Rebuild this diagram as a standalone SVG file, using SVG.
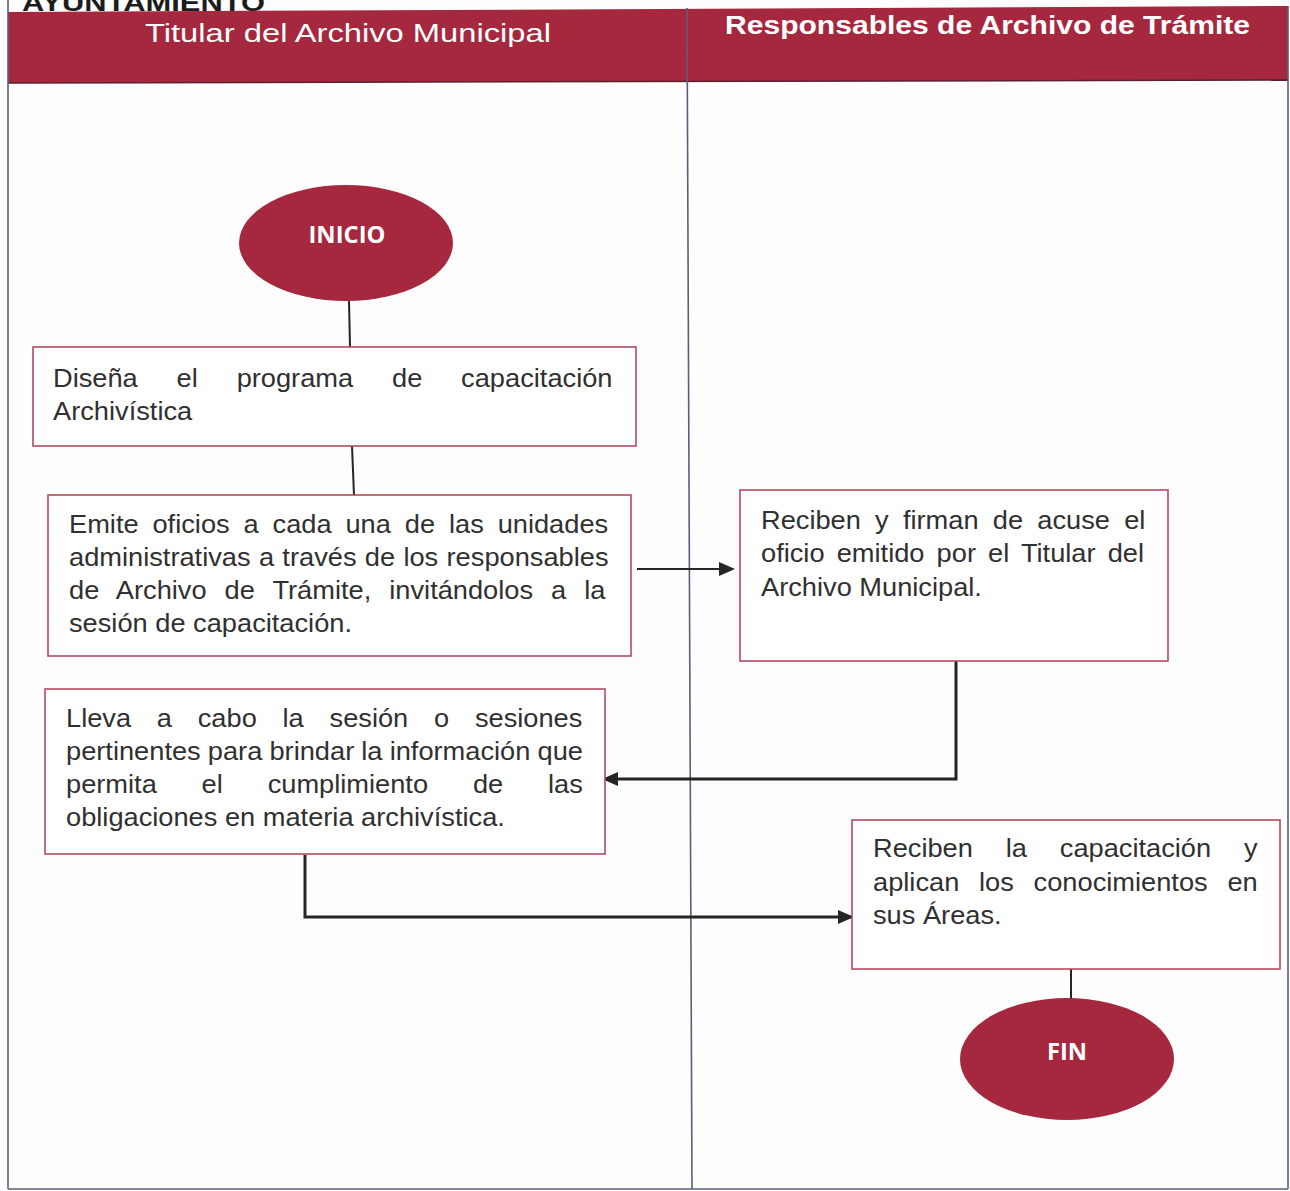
<svg xmlns="http://www.w3.org/2000/svg" width="1290" height="1191" viewBox="0 0 1290 1191">
  <style>
    .frame { fill: none; stroke: #5a5f78; stroke-width: 1.6; }
    .band { fill: #a6283f; }
    .lane-title { font-family: "Liberation Sans", Arial, sans-serif; font-size: 26px; fill: #ffffff; }
    .box { fill: #ffffff; stroke: #b44a60; stroke-width: 1.6; }
    .txt { font-family: "Liberation Sans", Arial, sans-serif; font-size: 25px; fill: #303030; }
    .term { fill: #a6283f; }
    .term-txt { font-family: "Open Sans", "Liberation Sans", sans-serif; font-size: 24px; font-weight: bold; fill: #ffffff; text-anchor: middle; }
    .wire { fill: none; stroke: #252525; stroke-width: 2; }
    .wire-heavy { fill: none; stroke: #252525; stroke-width: 3; }
  </style>
  <defs>
    <marker id="arrow" markerUnits="userSpaceOnUse" markerWidth="16" markerHeight="14" refX="14" refY="7" orient="auto">
      <path d="M0,0 L16,7 L0,14 Z" fill="#252525"/>
    </marker>
  </defs>

  <rect x="0" y="0" width="1290" height="1191" fill="#fdfdfd"/>

  <!-- page heading, running off the top edge -->
  <text x="22" y="11" font-family="Liberation Sans, Arial, sans-serif" font-size="24" font-weight="bold" fill="#1c1c1c" textLength="243" lengthAdjust="spacingAndGlyphs">AYUNTAMIENTO</text>

  <!-- swimlane frame -->
  <g id="lanes">
    <polygon class="band" points="8,12 1288,6 1288,80 8,83"/>
    <line x1="8" y1="83" x2="1288" y2="80" stroke="#5a2030" stroke-width="1.5"/>
    <line class="frame" x1="8" y1="0" x2="8" y2="1189"/>
    <line class="frame" x1="1288" y1="6" x2="1288" y2="1189"/>
    <line class="frame" x1="8" y1="1189" x2="1288" y2="1189"/>
    <line class="frame" x1="687" y1="8" x2="692" y2="1189"/>
    <text class="lane-title" x="145" y="42" textLength="406" lengthAdjust="spacingAndGlyphs">Titular del Archivo Municipal</text>
    <text class="lane-title" x="725" y="34" font-weight="bold" textLength="525" lengthAdjust="spacingAndGlyphs">Responsables de Archivo de Trámite</text>
  </g>

  <!-- connectors -->
  <g id="connectors">
    <line class="wire" x1="349" y1="301" x2="350" y2="347"/>
    <line class="wire" x1="352" y1="446" x2="354" y2="495"/>
    <line class="wire" x1="637" y1="569" x2="733" y2="569" marker-end="url(#arrow)"/>
    <polyline class="wire-heavy" points="956,661 956,779 604,779" marker-end="url(#arrow)"/>
    <polyline class="wire-heavy" points="305,855 305,917 852,917" marker-end="url(#arrow)"/>
    <line class="wire" x1="1071" y1="969" x2="1071" y2="999"/>
  </g>

  <g id="inicio">
    <ellipse class="term" cx="346" cy="243" rx="107" ry="58"/>
    <text class="term-txt" x="347" y="243" textLength="77" lengthAdjust="spacingAndGlyphs">INICIO</text>
  </g>

  <!-- box texts use a slightly widened face; justified lines are spread with word-spacing -->
  <g id="disena">
    <rect class="box" x="33" y="347" width="603" height="99"/>
    <g transform="translate(53,0) scale(1.09,1)">
      <text class="txt" x="0" y="387" word-spacing="28.7">Diseña el programa de capacitación</text>
      <text class="txt" x="0" y="420">Archivística</text>
    </g>
  </g>

  <g id="emite">
    <rect class="box" x="48" y="495" width="583" height="161"/>
    <g transform="translate(69,0) scale(1.09,1)">
      <text class="txt" x="0" y="533" word-spacing="5.8">Emite oficios a cada una de las unidades</text>
      <text class="txt" x="0" y="566" word-spacing="0.7">administrativas a través de los responsables</text>
      <text class="txt" x="0" y="599" word-spacing="9.6">de Archivo de Trámite, invitándolos a la</text>
      <text class="txt" x="0" y="632">sesión de capacitación.</text>
    </g>
  </g>

  <g id="reciben-oficio">
    <rect class="box" x="740" y="490" width="428" height="171"/>
    <g transform="translate(761,0) scale(1.09,1)">
      <text class="txt" x="0" y="529" word-spacing="6.1">Reciben y firman de acuse el</text>
      <text class="txt" x="0" y="562" word-spacing="4.2">oficio emitido por el Titular del</text>
      <text class="txt" x="0" y="596">Archivo Municipal.</text>
    </g>
  </g>

  <g id="lleva-sesion">
    <rect class="box" x="45" y="689" width="560" height="165"/>
    <g transform="translate(66,0) scale(1.09,1)">
      <text class="txt" x="0" y="727" word-spacing="16.7">Lleva a cabo la sesión o sesiones</text>
      <text class="txt" x="0" y="760" word-spacing="-0.4">pertinentes para brindar la información que</text>
      <text class="txt" x="0" y="793" word-spacing="34.2">permita el cumplimiento de las</text>
      <text class="txt" x="0" y="826">obligaciones en materia archivística.</text>
    </g>
  </g>

  <g id="reciben-capacitacion">
    <rect class="box" x="852" y="820" width="428" height="149"/>
    <g transform="translate(873,0) scale(1.09,1)">
      <text class="txt" x="0" y="857" word-spacing="23.2">Reciben la capacitación y</text>
      <text class="txt" x="0" y="891" word-spacing="11.2">aplican los conocimientos en</text>
      <text class="txt" x="0" y="924">sus Áreas.</text>
    </g>
  </g>

  <g id="fin">
    <ellipse class="term" cx="1067" cy="1059" rx="107" ry="61"/>
    <text class="term-txt" x="1067" y="1060" textLength="40" lengthAdjust="spacingAndGlyphs">FIN</text>
  </g>
</svg>
